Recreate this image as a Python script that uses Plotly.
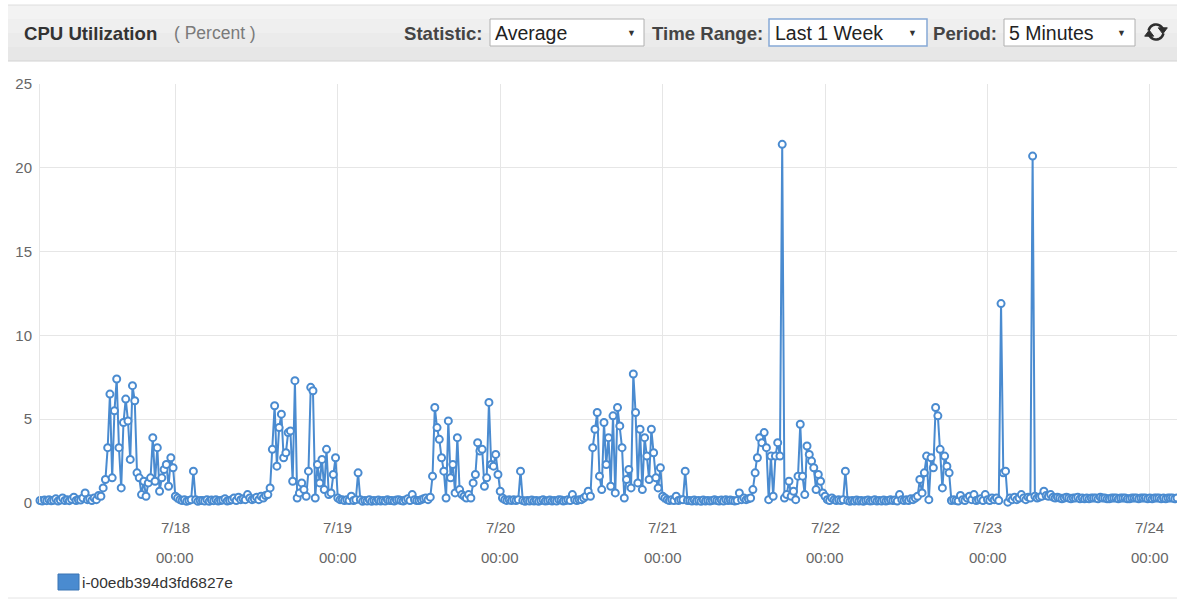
import math
import plotly.graph_objects as go
import pandas as pd

# ---- data (CPU %, one value every 20 minutes, starting 2017-07-17 04:00) ----
jul17 = [
    0.15, 0.12, 0.18, 0.14, 0.20, 0.13, 0.16, 0.25, 0.12, 0.18, 0.30, 0.15,
    0.20, 0.14, 0.22, 0.35, 0.15, 0.20, 0.18, 0.30, 0.60, 0.20, 0.25, 0.15,
    0.30, 0.20, 0.45, 0.40, 0.90, 1.40, 3.30, 6.50, 1.50, 5.50, 7.40, 3.30,
    0.90, 4.80, 6.20, 4.90, 2.60, 7.00, 6.10, 1.80, 1.50, 0.50, 1.30, 0.40,
    1.20, 1.50, 3.90, 1.30, 3.30, 0.70, 1.50, 2.00, 2.30, 1.00, 2.70, 2.10,
]
jul18 = [
    0.40, 0.30, 0.20, 0.15, 0.20, 0.10, 0.15, 0.20, 1.90, 0.20, 0.10, 0.15,
    0.15, 0.12, 0.20, 0.10, 0.18, 0.14, 0.20, 0.12, 0.15, 0.18, 0.25, 0.12,
    0.15, 0.20, 0.30, 0.15, 0.35, 0.20, 0.25, 0.20, 0.50, 0.30, 0.20, 0.25,
    0.35, 0.20, 0.40, 0.30, 0.45, 0.50, 0.90, 3.20, 5.80, 2.20, 4.50, 5.30,
    2.70, 3.00, 4.20, 4.30, 1.30, 7.30, 0.30, 0.60, 1.20, 0.80, 0.40, 1.90,
    6.90, 6.70, 0.30, 2.30, 1.20, 2.60, 0.80, 3.20, 0.50, 0.60, 1.70, 2.70,
]
jul19 = [
    0.30, 0.20, 0.20, 0.15, 0.20, 0.15, 0.40, 0.15, 0.20, 1.80, 0.20, 0.10,
    0.15, 0.12, 0.20, 0.10, 0.15, 0.12, 0.18, 0.12, 0.15, 0.12, 0.20, 0.15,
    0.15, 0.12, 0.18, 0.20, 0.15, 0.12, 0.18, 0.25, 0.15, 0.50, 0.20, 0.15,
    0.15, 0.20, 0.25, 0.30, 0.20, 0.35, 1.60, 5.70, 4.50, 3.80, 2.70, 1.90,
    0.30, 4.90, 1.50, 2.30, 0.60, 3.90, 0.80, 0.50, 0.40, 0.30, 0.50, 0.30,
    1.20, 1.70, 3.60, 3.10, 3.20, 1.00, 1.50, 6.00, 2.30, 2.20, 2.90, 1.70,
]
jul20 = [
    0.70, 0.30, 0.20, 0.15, 0.20, 0.15, 0.20, 0.15, 0.20, 1.90, 0.15, 0.10,
    0.15, 0.12, 0.18, 0.12, 0.15, 0.10, 0.15, 0.20, 0.12, 0.14, 0.18, 0.12,
    0.15, 0.12, 0.20, 0.18, 0.12, 0.15, 0.20, 0.15, 0.50, 0.20, 0.15, 0.20,
    0.20, 0.30, 0.40, 0.70, 0.40, 3.30, 4.40, 5.40, 1.60, 0.80, 4.80, 2.30,
    3.90, 1.00, 5.20, 0.60, 5.70, 4.60, 3.30, 0.30, 1.40, 2.00, 0.90, 7.70,
    5.40, 1.20, 4.40, 0.80, 3.90, 2.80, 1.40, 4.40, 3.00, 1.50, 0.90, 2.10,
]
jul21 = [
    0.40, 0.30, 0.20, 0.15, 0.20, 0.15, 0.40, 0.15, 0.20, 0.20, 1.90, 0.15,
    0.15, 0.12, 0.18, 0.12, 0.15, 0.10, 0.18, 0.12, 0.15, 0.12, 0.15, 0.20,
    0.15, 0.12, 0.18, 0.12, 0.20, 0.15, 0.18, 0.15, 0.12, 0.15, 0.60, 0.20,
    0.30, 0.20, 0.25, 0.30, 0.80, 1.80, 2.70, 3.90, 3.60, 4.20, 3.30, 0.20,
    2.80, 0.40, 2.80, 3.60, 2.80, 21.40, 0.30, 0.50, 1.30, 0.40, 0.70, 0.20,
    1.60, 4.70, 1.60, 0.50, 3.40, 2.90, 2.50, 2.10, 0.80, 1.70, 1.30, 0.60,
]
jul22 = [
    0.40, 0.20, 0.15, 0.30, 0.20, 0.15, 0.20, 0.15, 0.20, 1.90, 0.15, 0.10,
    0.15, 0.12, 0.18, 0.12, 0.15, 0.10, 0.15, 0.18, 0.12, 0.14, 0.20, 0.12,
    0.15, 0.12, 0.18, 0.12, 0.15, 0.20, 0.15, 0.18, 0.12, 0.50, 0.20, 0.15,
    0.20, 0.15, 0.25, 0.20, 0.30, 0.40, 1.40, 0.60, 1.80, 2.80, 0.20, 2.70,
    2.10, 5.70, 5.20, 3.20, 0.90, 2.80, 2.20, 1.80, 0.15, 0.20, 0.15, 0.12,
    0.45, 0.20, 0.15, 0.30, 0.40, 0.20, 0.50, 0.15, 0.20, 0.25, 0.15, 0.50,
]
jul23 = [
    0.20, 0.15, 0.30, 0.20, 0.30, 0.15, 11.90, 1.80, 1.90, 0.05, 0.30, 0.20,
    0.35, 0.20, 0.30, 0.50, 0.30, 0.20, 0.35, 0.30, 20.70, 0.40, 0.30, 0.35,
    0.40, 0.70, 0.45, 0.40, 0.50, 0.35, 0.30, 0.35, 0.30, 0.25, 0.30, 0.35,
    0.30, 0.25, 0.30, 0.30, 0.35, 0.25, 0.30, 0.25, 0.30, 0.25, 0.30, 0.30,
    0.30, 0.25, 0.35, 0.30, 0.30, 0.25, 0.25, 0.30, 0.30, 0.30, 0.25, 0.30,
    0.30, 0.30, 0.25, 0.25, 0.30, 0.30, 0.30, 0.25, 0.30, 0.30, 0.30, 0.25,
]
jul24 = [0.30, 0.25, 0.30, 0.30, 0.30, 0.25, 0.30, 0.25, 0.30, 0.30, 0.30, 0.25, 0.30]

series_name = "i-00edb394d3fd6827e"
day_ticks = ["2017-07-18", "2017-07-19", "2017-07-20", "2017-07-21",
             "2017-07-22", "2017-07-23", "2017-07-24"]
day_labels = ["7/18", "7/19", "7/20", "7/21", "7/22", "7/23", "7/24"]
time_labels = ["00:00", "00:00", "00:00", "00:00", "00:00", "00:00", "00:00"]
y_ticks = [0, 5, 10, 15, 20, 25]

values = jul17 + jul18 + jul19 + jul20 + jul21 + jul22 + jul23 + jul24
times = pd.date_range("2017-07-17 04:00", periods=len(values), freq="20min")

# ---- layout helpers (pixel -> paper) ----
W, H = 1177, 602
L, R, T, B = 40, 0, 84, 99
PW, PH = W - L - R, H - T - B


def px(x):
    return (x - L) / PW


def py(y):
    return (H - B - y) / PH


BLUE = "#4a8bd0"
FONT = "Liberation Sans, Arial, sans-serif"

fig = go.Figure()
fig.add_trace(go.Scatter(
    x=times, y=values, mode="lines+markers", name=series_name,
    line=dict(color=BLUE, width=2),
    marker=dict(symbol="circle", size=7, color="white",
                line=dict(color=BLUE, width=2)),
    cliponaxis=False, showlegend=False,
))

shapes = []
# header bar (banded to mimic gradient)
bands = ["#f3f3f3", "#efefef", "#ebebeb", "#e7e7e7"]
top, bot = 5, 61
step = (bot - top) / len(bands)
for i, c in enumerate(bands):
    shapes.append(dict(type="rect", xref="paper", yref="paper",
                       x0=px(8), x1=px(W), y0=py(top + step * (i + 1)), y1=py(top + step * i),
                       fillcolor=c, line=dict(width=0), layer="below"))
shapes.append(dict(type="line", xref="paper", yref="paper", x0=px(8), x1=px(W),
                   y0=py(61), y1=py(61), line=dict(color="#d2d2d2", width=1)))
shapes.append(dict(type="line", xref="paper", yref="paper", x0=px(8), x1=px(W),
                   y0=py(5), y1=py(5), line=dict(color="#dedede", width=1)))
# select boxes
for (x0, x1, col, w) in [(490, 644, "#b0b0b0", 1), (769, 927, "#86a9d6", 1.5), (1004, 1135, "#b0b0b0", 1)]:
    shapes.append(dict(type="rect", xref="paper", yref="paper",
                       x0=px(x0), x1=px(x1), y0=py(46), y1=py(19),
                       fillcolor="white", line=dict(color=col, width=w)))

# refresh icon: two arcs with arrow heads (pixel geometry)
cx, cy, r = 1156, 32, 7.5


def arc(a0, a1, n=14):
    pts = []
    for k in range(n + 1):
        a = math.radians(a0 + (a1 - a0) * k / n)
        pts.append((cx + r * math.cos(a), cy - r * math.sin(a)))
    return pts


def poly(pts, close=False):
    s = "M " + " L ".join("%f,%f" % (px(x), py(y)) for x, y in pts)
    return s + (" Z" if close else "")


ICON = "#2e2e2e"
shapes.append(dict(type="path", xref="paper", yref="paper", path=poly(arc(170, 25)),
                   line=dict(color=ICON, width=2.6)))
shapes.append(dict(type="path", xref="paper", yref="paper", path=poly(arc(350, 205)),
                   line=dict(color=ICON, width=2.6)))
ax, ay = cx + r * math.cos(math.radians(25)), cy - r * math.sin(math.radians(25))
shapes.append(dict(type="path", xref="paper", yref="paper",
                   path=poly([(ax - 4.5, ay - 1), (ax + 4.5, ay - 1), (ax, ay + 5)], close=True),
                   fillcolor=ICON, line=dict(color=ICON, width=1)))
bx, by = cx + r * math.cos(math.radians(205)), cy - r * math.sin(math.radians(205))
shapes.append(dict(type="path", xref="paper", yref="paper",
                   path=poly([(bx - 4.5, by + 1), (bx + 4.5, by + 1), (bx, by - 5)], close=True),
                   fillcolor=ICON, line=dict(color=ICON, width=1)))

# legend swatch
shapes.append(dict(type="rect", xref="paper", yref="paper",
                   x0=px(58), x1=px(79), y0=py(590), y1=py(574),
                   fillcolor=BLUE, line=dict(color="#3a74b3", width=1)))
# bottom border of widget
shapes.append(dict(type="line", xref="paper", yref="paper", x0=px(8), x1=px(W),
                   y0=py(598), y1=py(598), line=dict(color="#e4e4e4", width=1)))

ann = []


def text(x, y, s, size, color, anchor="left", bold=False):
    ann.append(dict(xref="paper", yref="paper", x=px(x), y=py(y), text=("<b>%s</b>" % s) if bold else s,
                    showarrow=False, xanchor=anchor, yanchor="middle",
                    font=dict(family=FONT, size=size, color=color)))


text(22, 33, "CPU Utilization", 18.6, "#333333", bold=True)
text(172, 33, "( Percent )", 17.5, "#7a7a7a")
text(402, 33, "Statistic:", 18.6, "#444444", bold=True)
text(493, 33, "Average", 19.5, "#222222")
text(631, 33, "▼", 9, "#333333", anchor="center")
text(650, 33, "Time Range:", 18.6, "#444444", bold=True)
text(773, 33, "Last 1 Week", 19.5, "#222222")
text(913, 33, "▼", 9, "#333333", anchor="center")
text(931, 33, "Period:", 18.6, "#444444", bold=True)
text(1007, 33, "5 Minutes", 19.5, "#222222")
text(1121, 33, "▼", 9, "#333333", anchor="center")
# legend label
text(80, 582, series_name, 15.5, "#333333")

# x-axis two-line labels
for d, lab, tl in zip(day_ticks, day_labels, time_labels):
    ann.append(dict(xref="x", yref="paper", x=d, y=py(527), text=lab, showarrow=False,
                    xanchor="center", yanchor="middle", font=dict(family=FONT, size=15, color="#666666")))
    ann.append(dict(xref="x", yref="paper", x=d, y=py(557), text=tl, showarrow=False,
                    xanchor="center", yanchor="middle", font=dict(family=FONT, size=15, color="#666666")))

fig.update_layout(
    width=W, height=H, margin=dict(l=L, r=R, t=T, b=B),
    paper_bgcolor="white", plot_bgcolor="white",
    font=dict(family=FONT),
    shapes=shapes, annotations=ann,
    xaxis=dict(range=[times[0], times[-1]], tickvals=day_ticks, showticklabels=False,
               showgrid=True, gridcolor="#e6e6e6", gridwidth=1, zeroline=False,
               showline=False, ticks=""),
    yaxis=dict(range=[0, 25], tickvals=y_ticks, showgrid=True, gridcolor="#e6e6e6",
               zeroline=False, showline=True, linecolor="#e6e6e6",
               tickfont=dict(size=15, color="#666666"), ticks="outside", ticklen=4,
               tickcolor="rgba(0,0,0,0)"),
)

fig.write_html("out.html", config={"displayModeBar": False},
               post_script="document.body.style.margin='0';document.body.style.overflow='hidden';")
